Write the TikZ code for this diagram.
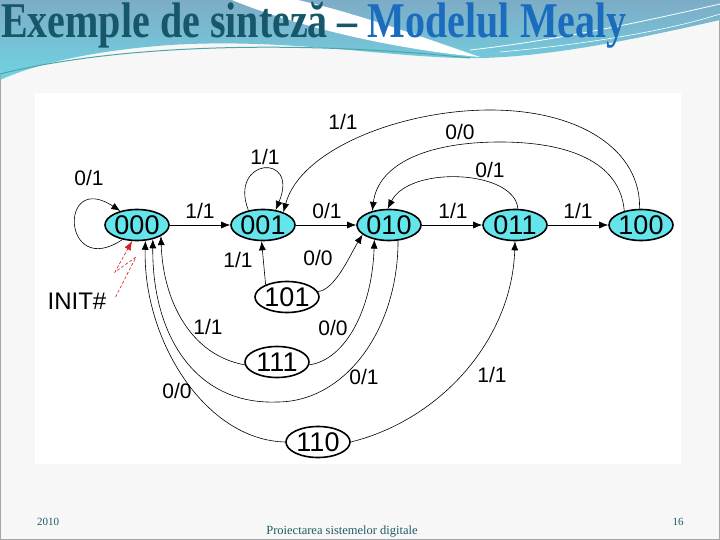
\documentclass[tikz,border=0pt]{standalone}
\usepackage{fontspec}
\setmainfont{Liberation Serif}
\setsansfont{Liberation Sans}
\usepackage{graphicx}
\usetikzlibrary{arrows.meta,calc,positioning,shapes}

\definecolor{stcyan}{RGB}{100,228,235}
\definecolor{slidebg}{RGB}{247,247,247}
\definecolor{hdtop}{RGB}{125,172,198}
\definecolor{hdcyan}{RGB}{112,212,228}
\definecolor{titleteal}{RGB}{22,88,105}
\definecolor{titleblue}{RGB}{28,108,190}
\definecolor{footteal}{RGB}{30,90,100}
\definecolor{initred}{RGB}{220,30,30}

\begin{document}
\begin{tikzpicture}[x=1pt,y=1pt,>={Latex[length=9pt,width=7pt]}]
	\tikzstyle{state} = [draw, ellipse, line width=1.6pt, minimum width=64pt, minimum height=31pt, inner sep=0pt, font=\sffamily\fontsize{27}{27}\selectfont]
	\tikzstyle{lbl} = [inner sep=0pt, font=\sffamily\fontsize{21}{21}\selectfont]
	\tikzstyle{edge} = [->, line width=0.6pt]
	\tikzstyle{foot} = [inner sep=0pt, text=footteal, font=\fontsize{11}{11}\selectfont]

	% slide background and header
	\useasboundingbox (0,0) rectangle (720,-540);
	\fill [slidebg] (0,0) rectangle (720,-540);
	\shade [top color=hdtop, bottom color=hdcyan] (0,0) -- (720,0) -- (720,-20)
		.. controls (640,-38) and (540,-60) .. (460,-58)
		.. controls (380,-56) and (280,-38) .. (170,-45)
		.. controls (100,-50) and (40,-62) .. (0,-80) -- cycle;
	\fill [white] (232,0) -- (298,0) .. controls (360,-14) and (430,-40) .. (480,-57)
		.. controls (400,-50) and (300,-28) .. (232,0) -- cycle;
	\draw [white, line width=0.8pt] (470,-50) .. controls (560,-40) and (650,-20) .. (720,-4);
	\draw [white, line width=0.6pt] (500,-52) .. controls (590,-44) and (670,-30) .. (720,-14);
	\draw [teal!70, line width=1pt] (0,-74) .. controls (120,-44) and (300,-40) .. (470,-58);
	\draw [gray!70, line width=1.2pt] (0.6,-75) -- (0.6,-539.4) -- (719.4,-539.4) -- (719.4,-20);
	\fill [white] (35,-93) rectangle (681,-464);

	\node [anchor=base west, inner sep=0pt, font=\bfseries\fontsize{50}{50}\selectfont] (title) at (1,-38)
		{\scalebox{0.8}[1]{\textcolor{titleteal}{Exemple de sinteză –} \textcolor{titleblue}{Modelul Mealy}}};

	% states
	\foreach \n/\x in {000/137,001/263,010/389,011/515,100/641}
		{ \node [state, fill=stcyan] (s\n) at (\x,-225) {\n};}
	\node [state, fill=white] (s101) at (287,-297) {101};
	\node [state, fill=white] (s111) at (277,-362) {111};
	\node [state, fill=white] (s110) at (318,-442) {110};

	% transitions
	\foreach \a/\b in {000/001,001/010,010/011,011/100}
		\draw [edge] (s\a) -- (s\b);
	\draw [edge] (s000.225) .. controls (62,-280) and (58,-170) .. (s000.140);
	\draw [edge] (s001.135) .. controls (228,-158) and (300,-152) .. (s001.50);
	\draw [edge] (s100.95) .. controls (641,-150) and (580,-110) .. (490,-110)
		.. controls (400,-110) and (300,-150) .. (s001.32);
	\draw [edge] (s100.140) .. controls (620,-160) and (565,-142) .. (500,-142)
		.. controls (425,-142) and (378,-165) .. (s010.140);
	\draw [edge] (s011.80) .. controls (515,-170) and (410,-165) .. (s010.95);
	\draw [edge] (s101.150) -- (s001.265);
	\draw [edge] (s101.10) .. controls (335,-290) and (350,-255) .. (s010.200);
	\draw [edge] (s111.185) .. controls (190,-355) and (163,-300) .. (s000.335);
	\draw [edge] (s111.355) .. controls (345,-360) and (372,-310) .. (s010.225);
	\draw [edge] (s110.180) .. controls (205,-440) and (143,-340) .. (s000.298);
	\draw [edge] (s010.300) .. controls (398,-330) and (345,-402) .. (277,-402)
		.. controls (195,-405) and (152,-335) .. (s000.318);
	\draw [edge] (s110.0) .. controls (440,-420) and (512,-340) .. (s011.270);

	% labels
	\foreach \x/\y/\a/\b [count=\i] in {89/178/0/1, 200/211/1/1, 265/157/1/1, 327/211/0/1,
		343/122/1/1, 460/132/0/0, 490/170/0/1, 453/211/1/1, 578/211/1/1, 238/260/1/1,
		318/258/0/0, 208/327/1/1, 333/328/0/0, 177/391/0/0, 364/377/0/1, 492/375/1/1}
		{ \node [lbl] (lbl\i) at (\x,-\y) {\a/\b};}

	% reset
	\node [inner sep=0pt, font=\sffamily\fontsize{24}{24}\selectfont] (init) at (77,-301) {INIT\#};
	\draw [initred, line width=0.6pt, dash pattern=on 3pt off 2pt, ->] ([xshift=9pt,yshift=4pt]init.east)
		-- (136,-257) -- (115,-272) -- (s000.253);

	% footer
	\node [foot] (year) at (48,-522) {2010};
	\node [foot, font=\fontsize{12.5}{12.5}\selectfont] (course) at (342,-532) {Proiectarea sistemelor digitale};
	\node [foot] (page) at (678,-522) {16};
\end{tikzpicture}
\end{document}
